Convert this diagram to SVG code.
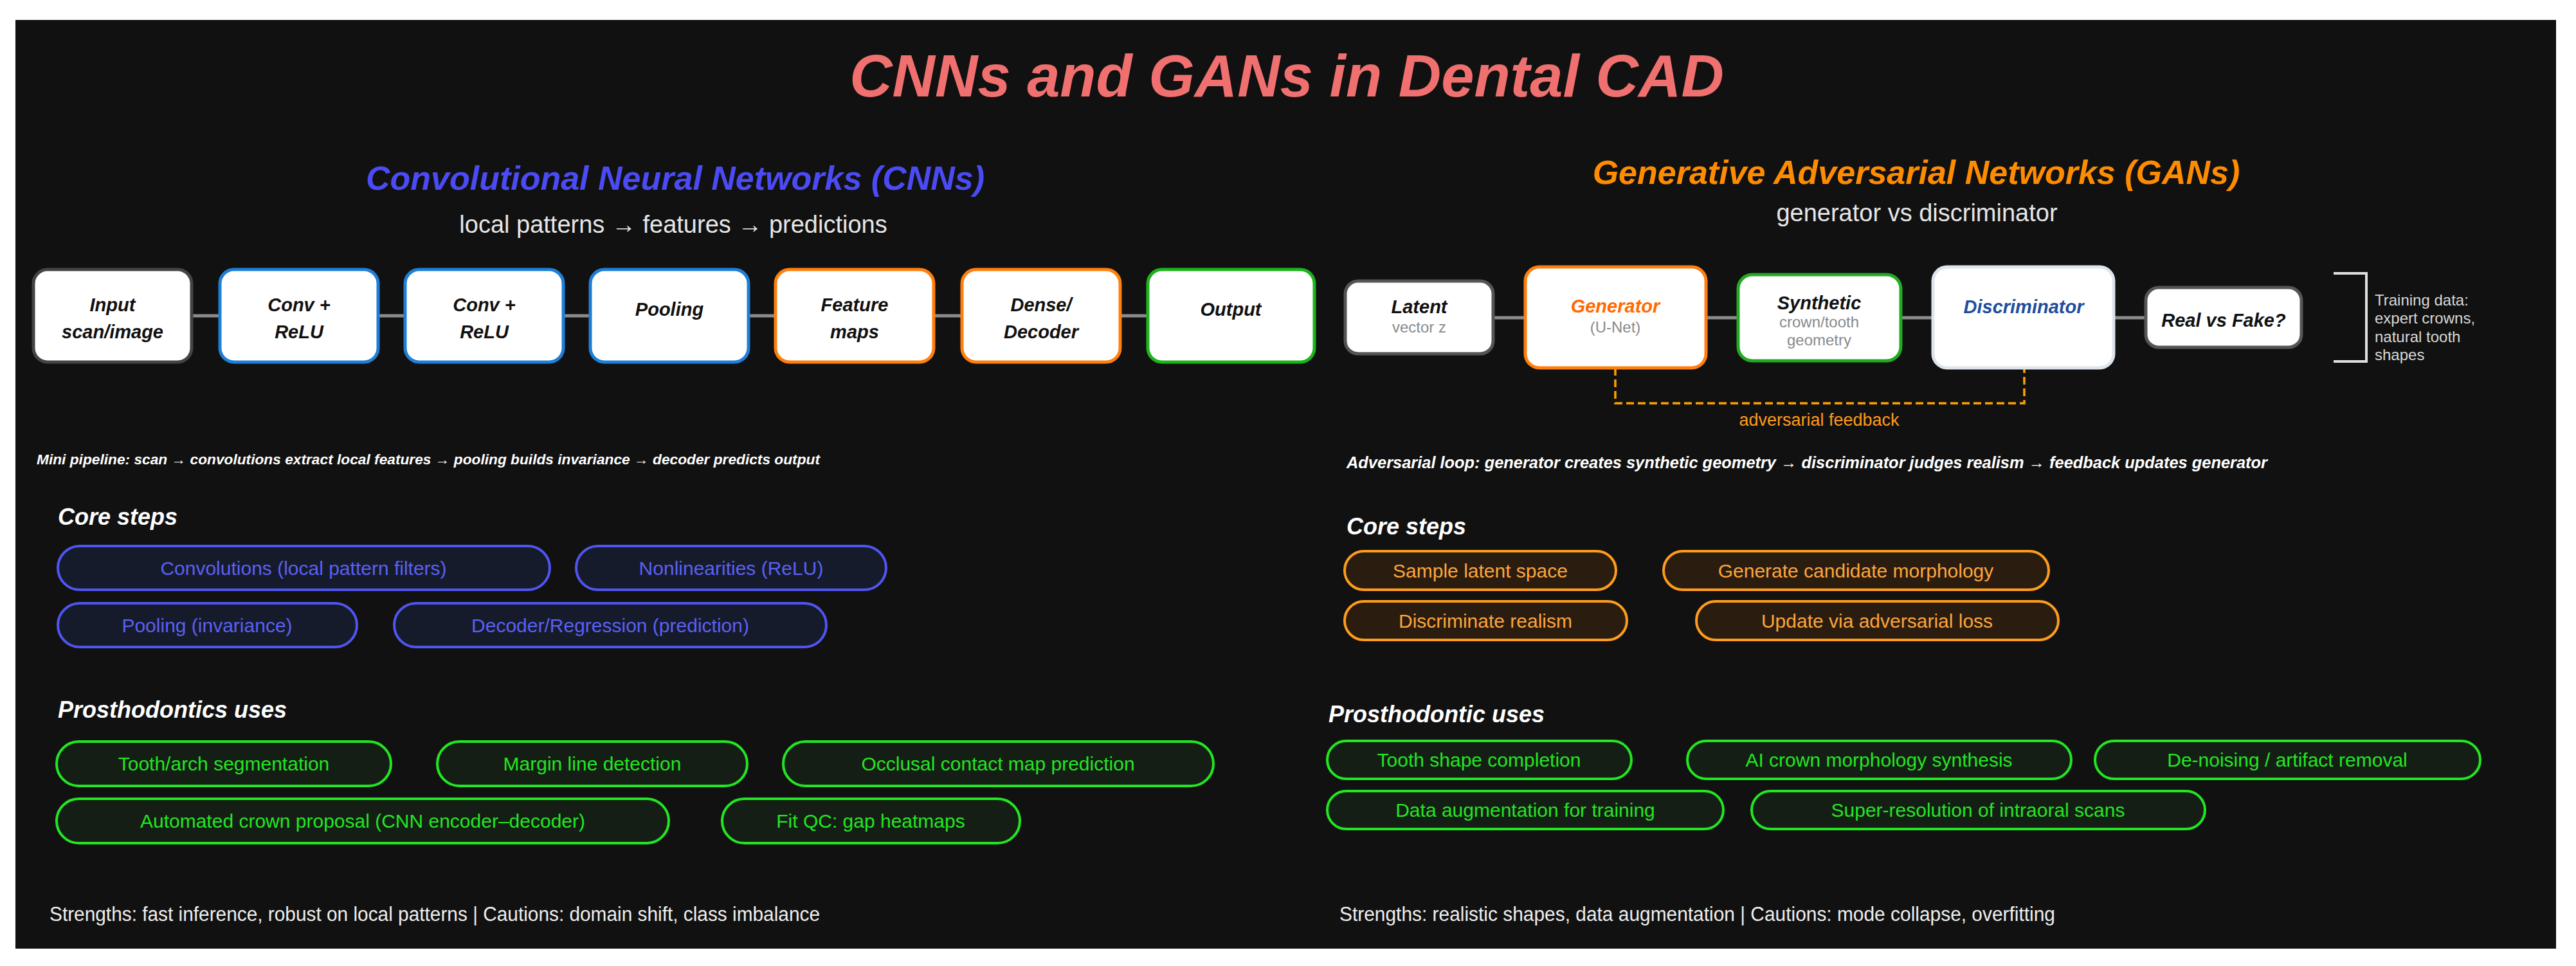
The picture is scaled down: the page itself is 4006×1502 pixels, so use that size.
<svg xmlns="http://www.w3.org/2000/svg" width="4006" height="1502" viewBox="0 0 4006 1502">
<style>
text{font-family:"Liberation Sans",Arial,sans-serif}
.bi{font-weight:bold;font-style:italic}
.node{fill:#ffffff;stroke-width:5}
.nt{font-size:29px;fill:#111111;text-anchor:middle;font-weight:bold;font-style:italic}
.ns{font-size:24px;fill:#8a8a8a;text-anchor:middle}
.conn{stroke:#8c8c8c;stroke-width:5;fill:none}
.pb{fill:#161b2b;stroke:#4f55f0;stroke-width:4}
.pbt{fill:#5a60f5;font-size:30px;text-anchor:middle}
.pg{fill:#141e14;stroke:#22e622;stroke-width:4}
.pgt{fill:#22e622;font-size:30px;text-anchor:middle}
.po{fill:#2a1d10;stroke:#ff9c1c;stroke-width:4}
.pot{fill:#ffa53a;font-size:30px;text-anchor:middle}
.hd{fill:#ffffff;font-size:36px;font-weight:bold;font-style:italic}
.note{fill:#ffffff;font-weight:bold;font-style:italic}
.str{fill:#eeeeee;font-size:31px}
</style>
<rect x="0" y="0" width="4006" height="1502" fill="#ffffff"/>
<rect x="24" y="31" width="3951" height="1444" fill="#111111"/>

<text x="2001" y="150" class="bi" font-size="92" fill="#f07070" text-anchor="middle">CNNs and GANs in Dental CAD</text>

<!-- CNN section -->
<text x="1050" y="295" class="bi" font-size="52" fill="#4b4bf5" text-anchor="middle">Convolutional Neural Networks (CNNs)</text>
<text x="1047" y="362" font-size="38" fill="#e6e6e6" text-anchor="middle">local patterns → features → predictions</text>

<g id="connectors">
<line class="conn" x1="298" y1="491" x2="342" y2="491"/>
<line class="conn" x1="588" y1="491" x2="630" y2="491"/>
<line class="conn" x1="876" y1="491" x2="918" y2="491"/>
<line class="conn" x1="1164" y1="491" x2="1206" y2="491"/>
<line class="conn" x1="1452" y1="491" x2="1496" y2="491"/>
<line class="conn" x1="1742" y1="491" x2="1785" y2="491"/>
<line class="conn" x1="2322" y1="494" x2="2372" y2="494"/>
<line class="conn" x1="2653" y1="494" x2="2703" y2="494"/>
<line class="conn" x1="2956" y1="494" x2="3006" y2="494"/>
<line class="conn" x1="3287" y1="494" x2="3337" y2="494"/>
<path d="M2512,572 V627 H3148 V572" fill="none" stroke="#ffa000" stroke-width="3.5" stroke-dasharray="12 6"/>
<text x="2829" y="662" font-size="27" fill="#ff9a1a" text-anchor="middle">adversarial feedback</text>
</g>

<g id="n-input"><rect class="node" x="52" y="419" width="246" height="144" rx="22" stroke="#444444"/>
<text class="nt" x="175" y="484">Input</text><text class="nt" x="175" y="526">scan/image</text></g>
<g id="n-conv1"><rect class="node" x="342" y="419" width="246" height="144" rx="22" stroke="#1e7fd8"/>
<text class="nt" x="465" y="484">Conv +</text><text class="nt" x="465" y="526">ReLU</text></g>
<g id="n-conv2"><rect class="node" x="630" y="419" width="246" height="144" rx="22" stroke="#1e7fd8"/>
<text class="nt" x="753" y="484">Conv +</text><text class="nt" x="753" y="526">ReLU</text></g>
<g id="n-pool"><rect class="node" x="918" y="419" width="246" height="144" rx="22" stroke="#1e7fd8"/>
<text class="nt" x="1041" y="491">Pooling</text></g>
<g id="n-feat"><rect class="node" x="1206" y="419" width="246" height="144" rx="22" stroke="#ff7f0e"/>
<text class="nt" x="1329" y="484">Feature</text><text class="nt" x="1329" y="526">maps</text></g>
<g id="n-dense"><rect class="node" x="1496" y="419" width="246" height="144" rx="22" stroke="#ff7f0e"/>
<text class="nt" x="1619" y="484">Dense/</text><text class="nt" x="1619" y="526">Decoder</text></g>
<g id="n-output"><rect class="node" x="1785" y="419" width="259" height="144" rx="22" stroke="#1db31d"/>
<text class="nt" x="1914" y="491">Output</text></g>

<text class="note" x="57" y="722" font-size="22" textLength="1218" lengthAdjust="spacingAndGlyphs">Mini pipeline: scan → convolutions extract local features → pooling builds invariance → decoder predicts output</text>

<text class="hd" x="90" y="816">Core steps</text>
<g id="cs1"><rect class="pb" x="90" y="849" width="765" height="68" rx="34"/><text class="pbt" x="472" y="894">Convolutions (local pattern filters)</text></g>
<g id="cs2"><rect class="pb" x="896" y="849" width="482" height="68" rx="34"/><text class="pbt" x="1137" y="894">Nonlinearities (ReLU)</text></g>
<g id="cs3"><rect class="pb" x="90" y="938" width="465" height="68" rx="34"/><text class="pbt" x="322" y="983">Pooling (invariance)</text></g>
<g id="cs4"><rect class="pb" x="613" y="938" width="672" height="68" rx="34"/><text class="pbt" x="949" y="983">Decoder/Regression (prediction)</text></g>

<text class="hd" x="90" y="1116">Prosthodontics uses</text>
<g id="pu1"><rect class="pg" x="88" y="1153" width="520" height="69" rx="34.5"/><text class="pgt" x="348" y="1198">Tooth/arch segmentation</text></g>
<g id="pu2"><rect class="pg" x="680" y="1153" width="482" height="69" rx="34.5"/><text class="pgt" x="921" y="1198">Margin line detection</text></g>
<g id="pu3"><rect class="pg" x="1218" y="1153" width="669" height="69" rx="34.5"/><text class="pgt" x="1552" y="1198">Occlusal contact map prediction</text></g>
<g id="pu4"><rect class="pg" x="88" y="1242" width="952" height="69" rx="34.5"/><text class="pgt" x="564" y="1287">Automated crown proposal (CNN encoder–decoder)</text></g>
<g id="pu5"><rect class="pg" x="1123" y="1242" width="463" height="69" rx="34.5"/><text class="pgt" x="1354" y="1287">Fit QC: gap heatmaps</text></g>

<text class="str" x="77" y="1432" textLength="1198" lengthAdjust="spacingAndGlyphs">Strengths: fast inference, robust on local patterns | Cautions: domain shift, class imbalance</text>

<!-- GAN section -->
<text x="2980" y="286" class="bi" font-size="52" fill="#ff8c00" text-anchor="middle">Generative Adversarial Networks (GANs)</text>
<text x="2981" y="344" font-size="38" fill="#e6e6e6" text-anchor="middle">generator vs discriminator</text>

<g id="g-latent"><rect class="node" x="2092" y="437" width="230" height="113" rx="20" stroke="#555555"/>
<text class="nt" x="2207" y="487">Latent</text><text class="ns" x="2207" y="517">vector z</text></g>
<g id="g-generator"><rect class="node" x="2372" y="415" width="281" height="157" rx="22" stroke="#ff7f0e"/>
<text class="nt" x="2512" y="486" style="fill:#ff6a00">Generator</text><text class="ns" x="2512" y="517">(U-Net)</text></g>
<g id="g-synthetic"><rect class="node" x="2703" y="427" width="253" height="134" rx="22" stroke="#22aa22"/>
<text class="nt" x="2829" y="481">Synthetic</text><text class="ns" x="2829" y="509">crown/tooth</text><text class="ns" x="2829" y="537">geometry</text></g>
<g id="g-discriminator"><rect class="node" x="3006" y="415" width="281" height="157" rx="22" stroke="#dfe5ec"/>
<text class="nt" x="3147" y="487" style="fill:#1f4e9c">Discriminator</text></g>
<g id="g-realfake"><rect class="node" x="3337" y="447" width="242" height="93" rx="20" stroke="#555555"/>
<text class="nt" x="3458" y="508">Real vs Fake?</text></g>
<g id="g-training">
<path d="M3629,425 H3680 V562 H3629" fill="none" stroke="#e0e0e0" stroke-width="4"/>
<text x="3693" y="475" font-size="24" fill="#d8d8d8">Training data:</text>
<text x="3693" y="503" font-size="24" fill="#d8d8d8">expert crowns,</text>
<text x="3693" y="532" font-size="24" fill="#d8d8d8">natural tooth</text>
<text x="3693" y="560" font-size="24" fill="#d8d8d8">shapes</text>
</g>

<text class="note" x="2094" y="728" font-size="25" textLength="1432" lengthAdjust="spacingAndGlyphs">Adversarial loop: generator creates synthetic geometry → discriminator judges realism → feedback updates generator</text>

<text class="hd" x="2094" y="831">Core steps</text>
<g id="gs1"><rect class="po" x="2091" y="857" width="422" height="60" rx="30"/><text class="pot" x="2302" y="898">Sample latent space</text></g>
<g id="gs2"><rect class="po" x="2587" y="857" width="599" height="60" rx="30"/><text class="pot" x="2886" y="898">Generate candidate morphology</text></g>
<g id="gs3"><rect class="po" x="2091" y="935" width="439" height="60" rx="30"/><text class="pot" x="2310" y="976">Discriminate realism</text></g>
<g id="gs4"><rect class="po" x="2638" y="935" width="563" height="60" rx="30"/><text class="pot" x="2919" y="976">Update via adversarial loss</text></g>

<text class="hd" x="2066" y="1123">Prosthodontic uses</text>
<g id="gu1"><rect class="pg" x="2064" y="1152" width="473" height="59" rx="29.5"/><text class="pgt" x="2300" y="1192">Tooth shape completion</text></g>
<g id="gu2"><rect class="pg" x="2624" y="1152" width="597" height="59" rx="29.5"/><text class="pgt" x="2922" y="1192">AI crown morphology synthesis</text></g>
<g id="gu3"><rect class="pg" x="3258" y="1152" width="599" height="59" rx="29.5"/><text class="pgt" x="3557" y="1192">De-noising / artifact removal</text></g>
<g id="gu4"><rect class="pg" x="2064" y="1230" width="616" height="59" rx="29.5"/><text class="pgt" x="2372" y="1270">Data augmentation for training</text></g>
<g id="gu5"><rect class="pg" x="2724" y="1230" width="705" height="59" rx="29.5"/><text class="pgt" x="3076" y="1270">Super-resolution of intraoral scans</text></g>

<text class="str" x="2083" y="1432" textLength="1113" lengthAdjust="spacingAndGlyphs">Strengths: realistic shapes, data augmentation | Cautions: mode collapse, overfitting</text>
</svg>
